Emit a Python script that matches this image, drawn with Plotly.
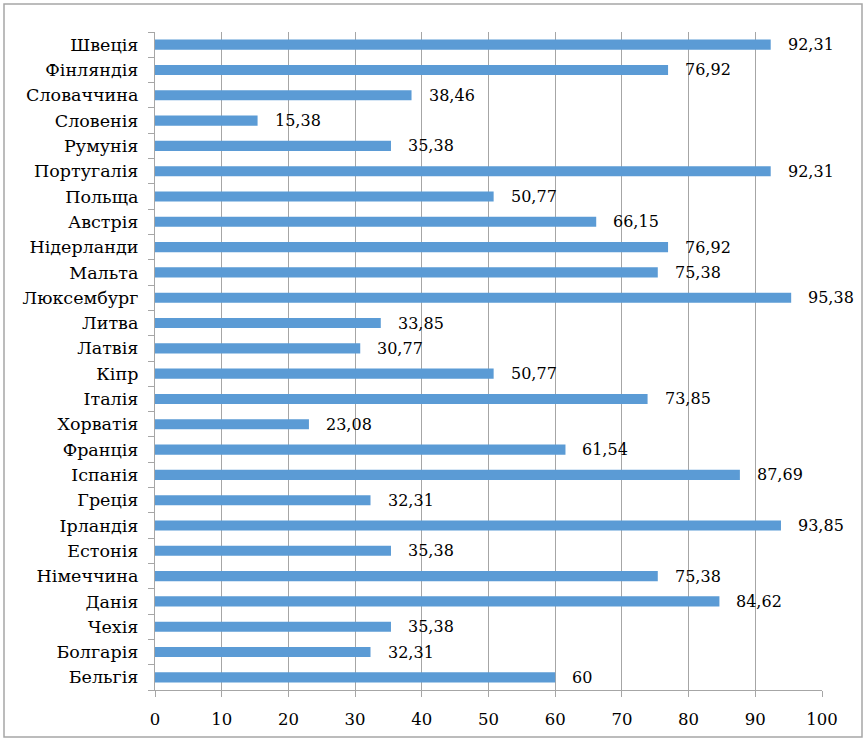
import plotly.graph_objects as go

# Countries listed bottom-to-top as they appear on the axis
countries = [
    "Бельгія", "Болгарія", "Чехія", "Данія", "Німеччина", "Естонія",
    "Ірландія", "Греція", "Іспанія", "Франція", "Хорватія", "Італія",
    "Кіпр", "Латвія", "Литва", "Люксембург", "Мальта", "Нідерланди",
    "Австрія", "Польща", "Португалія", "Румунія", "Словенія",
    "Словаччина", "Фінляндія", "Швеція",
]
values = [
    60, 32.31, 35.38, 84.62, 75.38, 35.38,
    93.85, 32.31, 87.69, 61.54, 23.08, 73.85,
    50.77, 30.77, 33.85, 95.38, 75.38, 76.92,
    66.15, 50.77, 92.31, 35.38, 15.38,
    38.46, 76.92, 92.31,
]
x_ticks = [0, 10, 20, 30, 40, 50, 60, 70, 80, 90, 100]


def fmt(v):
    # Ukrainian decimal comma, drop trailing zeros
    s = f"{v:.2f}".rstrip("0").rstrip(".")
    return s.replace(".", ",")


FONT = "DejaVu Serif"

fig = go.Figure(
    go.Bar(
        x=values,
        y=countries,
        orientation="h",
        marker=dict(color="#5B9BD5", line=dict(width=0)),
        width=0.4,
        hoverinfo="x+y",
    )
)

# value labels to the right of each bar
for c, v in zip(countries, values):
    fig.add_annotation(
        x=v, y=c, text=fmt(v), showarrow=False,
        xanchor="left", xshift=15, yshift=0,
        font=dict(family=FONT, size=16, color="black"),
    )

# outer frame around the whole chart
L, R, T, B = 155, 822, 32, 690
W, H = R - L, B - T
fig.add_shape(
    type="rect", xref="paper", yref="paper",
    x0=(4 - L) / W, x1=(862 - L) / W,
    y0=(B - 737) / H, y1=(B - 4) / H,
    line=dict(color="#A6A6A6", width=1.5), fillcolor="rgba(0,0,0,0)",
    layer="below",
)

fig.update_layout(
    width=865, height=742,
    margin=dict(l=L, r=865 - R, t=T, b=742 - B),
    paper_bgcolor="white", plot_bgcolor="white",
    showlegend=False,
    font=dict(family=FONT, size=17, color="black"),
    xaxis=dict(
        range=[0, 100], tickvals=x_ticks,
        showgrid=True, gridcolor="#A6A6A6", gridwidth=1.3,
        showline=True, linecolor="#A6A6A6", linewidth=1.3,
        ticks="outside", ticklen=6, tickcolor="#A6A6A6",
        tickfont=dict(family=FONT, size=16.5, color="black"),
        ticklabelstandoff=8,
        zeroline=False, fixedrange=True, automargin=False,
    ),
    yaxis=dict(
        categoryorder="array", categoryarray=countries,
        showline=True, linecolor="#A6A6A6", linewidth=1.3,
        ticks="outside", ticklen=6, tickcolor="#A6A6A6",
        tickson="boundaries",
        tickfont=dict(family=FONT, size=17.5, color="black"),
        ticklabelstandoff=12,
        showgrid=False, fixedrange=True, automargin=False,
    ),
)

fig.write_html("out.html")
